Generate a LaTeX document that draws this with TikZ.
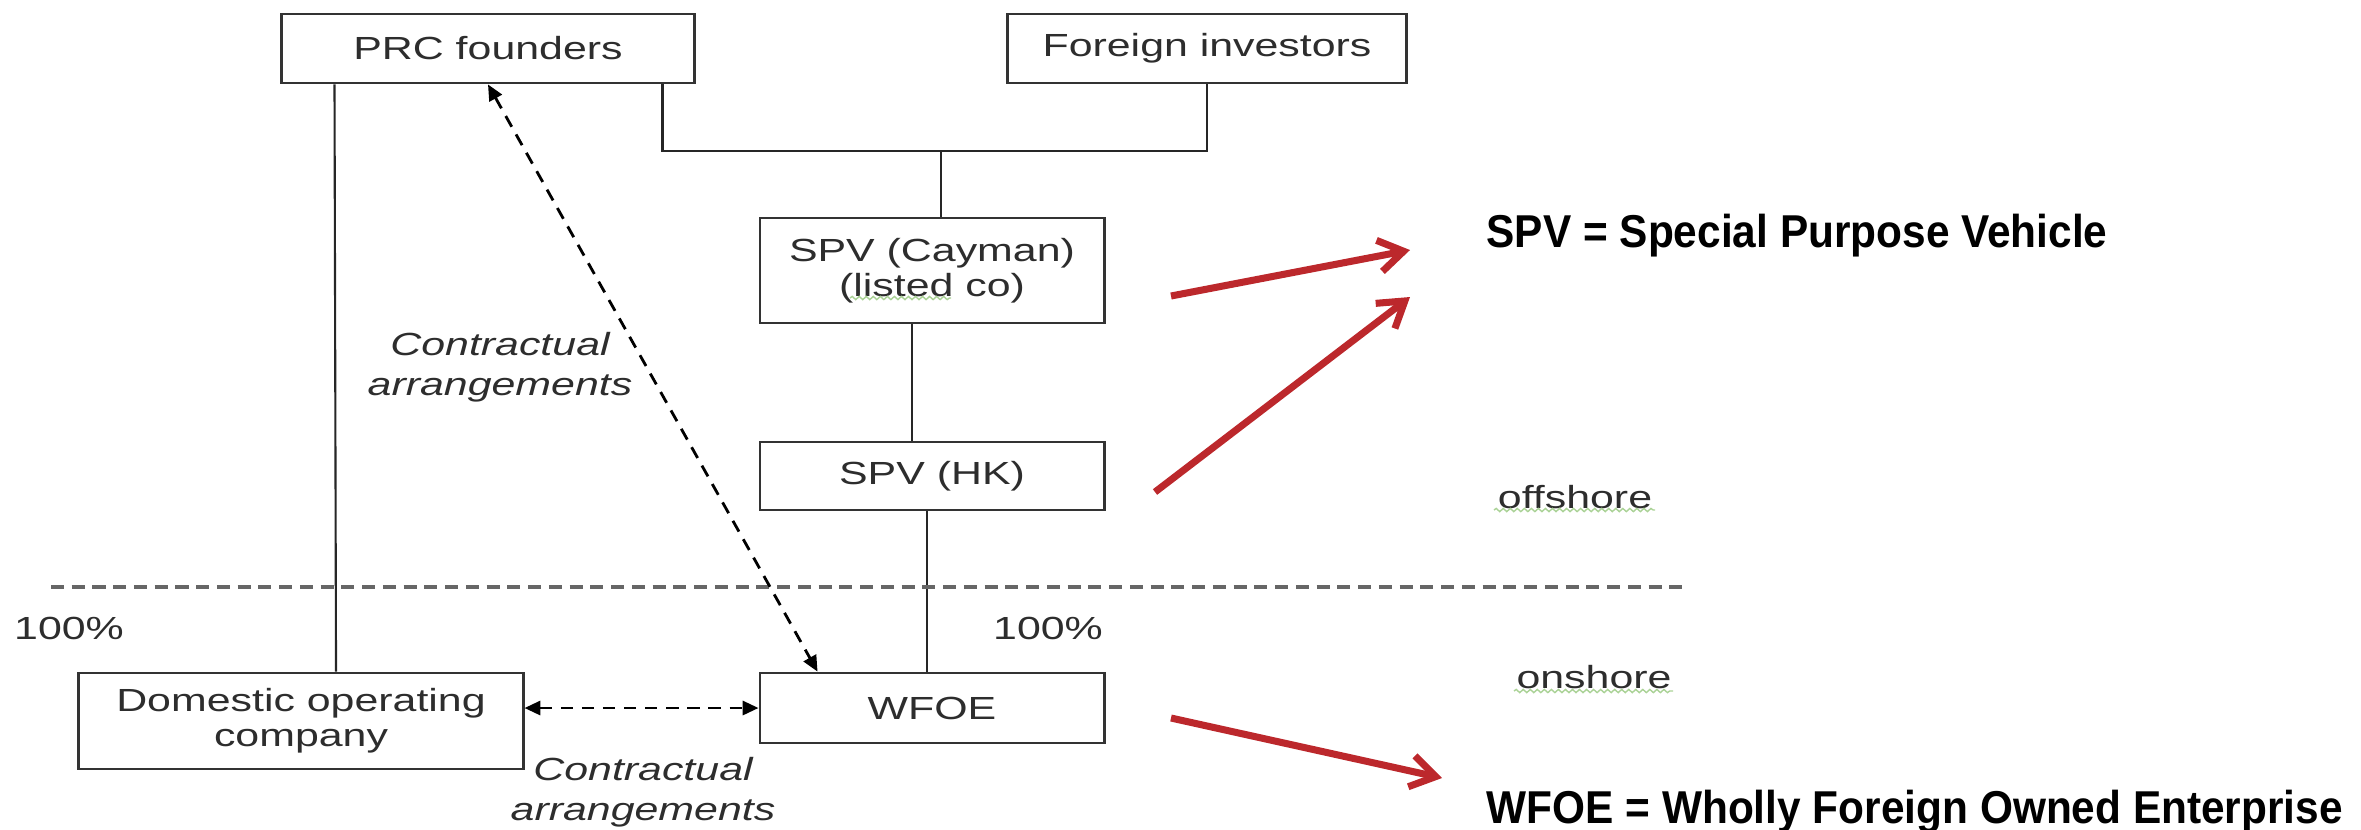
\documentclass[tikz,border=0pt]{standalone}
\usepackage{fontspec}
\newfontfamily\diagfont{Liberation Sans}[FakeStretch=1.34]
\newfontfamily\notefont{Liberation Sans}[FakeStretch=0.92]
\usetikzlibrary{arrows.meta,decorations.pathmorphing}
\definecolor{arrowred}{RGB}{188,40,44}
\definecolor{txtgray}{RGB}{45,45,45}
\definecolor{spellgreen}{RGB}{170,210,150}
\tikzset{
  box/.style={draw=black!80, line width=0.8pt, fill=white, text=txtgray, align=center,
    inner sep=0pt, font=\diagfont\fontsize{9.1}{10}\selectfont},
  lbl/.style={text=txtgray, align=center, inner sep=0pt, font=\diagfont\fontsize{9.1}{11.3}\selectfont},
  ital/.style={lbl, font=\diagfont\itshape\fontsize{9.1}{11.3}\selectfont},
  note/.style={anchor=base west, inner sep=0pt, text=black, font=\notefont\bfseries\fontsize{13.1}{15}\selectfont},
  conn/.style={draw=black!85, line width=0.6pt},
  contract/.style={draw=black, line width=0.8pt, dash pattern=on 3.5pt off 2.5pt,
    {Triangle[length=4.5pt,width=4pt]}-{Triangle[length=4.5pt,width=4pt]}},
  border/.style={draw=black!60, line width=1.1pt, dash pattern=on 3.7pt off 2.2pt},
  redarrow/.style={draw=arrowred, line width=2pt, -{Straight Barb[length=7pt,width=9pt]}},
  spell/.style={draw=spellgreen, line width=0.4pt, decorate,
    decoration={snake, amplitude=0.45pt, segment length=2pt}}
}
\begin{document}
\begin{tikzpicture}[x=0.01cm, y=-0.01cm]
\useasboundingbox (0,0) rectangle (2361,829);

% boxes
\node[box, minimum width=4.12cm, minimum height=0.69cm] (prc) at (488,48.5) {PRC founders};
\node[box, minimum width=3.98cm, minimum height=0.69cm] (fi) at (1207,48.5) {Foreign investors};
\node[box, minimum width=3.44cm, minimum height=1.05cm] (cay) at (932,270.5) {SPV (Cayman)\\(listed co)};
\node[box, minimum width=3.44cm, minimum height=0.68cm] (hk) at (932,476) {SPV (HK)};
\node[box, minimum width=3.44cm, minimum height=0.70cm] (wfoe) at (932,708) {WFOE};
\node[box, minimum width=4.44cm, minimum height=0.96cm] (dom) at (301,721) {Domestic operating\\company};

% ownership connectors
\coordinate (j) at (941,151);
\draw[conn] ([xshift=-0.33cm]prc.south east) |- (j) -| (fi.south);
\draw[conn] (j) -- (j |- cay.north);
\draw[conn] ([xshift=-0.2cm]cay.south) -- ([xshift=-0.2cm]hk.north);
\draw[conn] ([xshift=-0.05cm]hk.south) -- ([xshift=-0.05cm]wfoe.north);
\draw[conn] ([xshift=0.54cm]prc.south west) -- ([xshift=0.35cm]dom.north);

% offshore / onshore border
\coordinate (dl) at (51,587);
\coordinate (dr) at (1683,587);
\draw[border] (dl) -- (dr);

% contractual arrangements
\draw[contract] (prc.south) -- ([xshift=0.59cm]wfoe.north west);
\draw[contract] (wfoe.west -| dom.east) -- (wfoe.west);

% labels
\node[ital] (ca1) at (500,367) {Contractual\\arrangements};
\node[ital] (ca2) at (643,792) {Contractual\\arrangements};
\node[lbl] (p1) at (69,628) {100\%};
\node[lbl] (p2) at (1048,628) {100\%};
\node[lbl] (off) at (1575,497) {offshore};
\node[lbl] (on) at (1594,677) {onshore};

% spell-check underlines
\draw[spell] (850,298) -- (951,298);
\draw[spell] (1494,510) -- (1655,510);
\draw[spell] (1514,691) -- (1673,691);

% notes
\node[note] (spvnote) at (1486,247) {SPV = Special Purpose Vehicle};
\node[note] (wfoenote) at (1486,823) {WFOE = Wholly Foreign Owned Enterprise};

% red arrows
\coordinate (r1s) at (1171,296); \coordinate (r1e) at (1410,250);
\coordinate (r2s) at (1155,492); \coordinate (r2e) at (1410,297);
\coordinate (r3s) at (1171,718); \coordinate (r3e) at (1442,778);
\draw[redarrow] (r1s) -- (r1e);
\draw[redarrow] (r2s) -- (r2e);
\draw[redarrow] (r3s) -- (r3e);
\end{tikzpicture}
\end{document}
